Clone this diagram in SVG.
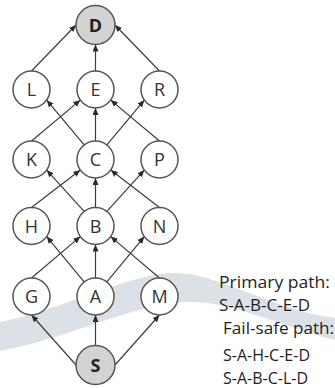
<svg xmlns="http://www.w3.org/2000/svg" width="335" height="388" viewBox="0 0 335 388">
  <style>
    .node circle { fill: #ffffff; stroke: #555555; stroke-width: 1.5; }
    .node.term circle { fill: #d3d3d3; }
    .node text { font-family: "Open Sans", "Noto Sans", sans-serif; font-size: 18px; fill: #333333; text-anchor: middle; }
    .node.term text { font-weight: bold; fill: #222222; }
    .edges line { stroke: #3c3c3c; stroke-width: 1.2; marker-end: url(#arr); }
    .legend { font-family: "Open Sans", "Noto Sans", sans-serif; font-size: 16.5px; fill: #1e1e1e; }
  </style>
  <defs>
    <marker id="arr" markerUnits="userSpaceOnUse" markerWidth="8" markerHeight="7" refX="7" refY="3" orient="auto">
      <path d="M0,0 L7,3 L0,6 Z" fill="#2a2a2a"/>
    </marker>
  </defs>
  <rect width="335" height="388" fill="#ffffff"/>
  <path id="band" d="M0,322 C60,310 120,278 168,273 C215,270 270,310 335,318 L335,340 C280,326 230,300 185,302 C130,305 70,338 0,351 Z" fill="#dbe1e7"/>

  <g id="connectors" class="edges">
    <line x1="76" y1="365" x2="31.5" y2="315"/>
    <line x1="95.5" y1="345.5" x2="95.5" y2="315"/>
    <line x1="115" y1="365" x2="159.5" y2="315"/>

    <line x1="31.5" y1="278" x2="80.3" y2="236.6"/>
    <line x1="84.1" y1="281.9" x2="46.7" y2="236.6"/>
    <line x1="95.5" y1="278" x2="95.5" y2="244.5"/>
    <line x1="106.9" y1="281.9" x2="144.3" y2="236.6"/>
    <line x1="159.5" y1="278" x2="110.7" y2="236.6"/>

    <line x1="31.5" y1="207.5" x2="80.3" y2="170.1"/>
    <line x1="84.1" y1="211.4" x2="46.7" y2="170.1"/>
    <line x1="95.5" y1="207.5" x2="95.5" y2="178"/>
    <line x1="106.9" y1="211.4" x2="144.3" y2="170.1"/>
    <line x1="159.5" y1="207.5" x2="110.7" y2="170.1"/>

    <line x1="31.5" y1="141" x2="80.3" y2="100.1"/>
    <line x1="84.1" y1="144.9" x2="46.7" y2="100.1"/>
    <line x1="95.5" y1="141" x2="95.5" y2="108"/>
    <line x1="106.9" y1="144.9" x2="144.3" y2="100.1"/>
    <line x1="159.5" y1="141" x2="110.7" y2="100.1"/>

    <line x1="31.5" y1="71" x2="76" y2="25"/>
    <line x1="95.5" y1="71" x2="95.5" y2="44.5"/>
    <line x1="159.5" y1="71" x2="115" y2="25"/>
  </g>

  <g id="node-D" class="node term"><circle cx="95.5" cy="25" r="19.5"/><text x="95.5" y="31.5">D</text></g>
  <g id="node-L" class="node"><circle cx="31.5" cy="89.5" r="18.5"/><text x="31.5" y="96">L</text></g>
  <g id="node-E" class="node"><circle cx="95.5" cy="89.5" r="18.5"/><text x="95.5" y="96">E</text></g>
  <g id="node-R" class="node"><circle cx="159.5" cy="89.5" r="18.5"/><text x="159.5" y="96">R</text></g>
  <g id="node-K" class="node"><circle cx="31.5" cy="159.5" r="18.5"/><text x="31.5" y="166">K</text></g>
  <g id="node-C" class="node"><circle cx="95.5" cy="159.5" r="18.5"/><text x="95.5" y="166">C</text></g>
  <g id="node-P" class="node"><circle cx="159.5" cy="159.5" r="18.5"/><text x="159.5" y="166">P</text></g>
  <g id="node-H" class="node"><circle cx="31.5" cy="226" r="18.5"/><text x="31.5" y="232.5">H</text></g>
  <g id="node-B" class="node"><circle cx="95.5" cy="226" r="18.5"/><text x="95.5" y="232.5">B</text></g>
  <g id="node-N" class="node"><circle cx="159.5" cy="226" r="18.5"/><text x="159.5" y="232.5">N</text></g>
  <g id="node-G" class="node"><circle cx="31.5" cy="296.5" r="18.5"/><text x="31.5" y="303">G</text></g>
  <g id="node-A" class="node"><circle cx="95.5" cy="296.5" r="18.5"/><text x="95.5" y="303">A</text></g>
  <g id="node-M" class="node"><circle cx="159.5" cy="296.5" r="18.5"/><text x="159.5" y="303">M</text></g>
  <g id="node-S" class="node term"><circle cx="95.5" cy="365" r="19.5"/><text x="95.5" y="371.5">S</text></g>

  <g id="legend">
    <text class="legend" x="219" y="288" textLength="111" lengthAdjust="spacingAndGlyphs">Primary path:</text>
    <text class="legend" x="219" y="311" textLength="91" lengthAdjust="spacingAndGlyphs">S-A-B-C-E-D</text>
    <text class="legend" x="223" y="334" textLength="111" lengthAdjust="spacingAndGlyphs">Fail-safe path:</text>
    <text class="legend" x="223" y="361" textLength="87" lengthAdjust="spacingAndGlyphs">S-A-H-C-E-D</text>
    <text class="legend" x="223" y="384" textLength="85" lengthAdjust="spacingAndGlyphs">S-A-B-C-L-D</text>
  </g>
</svg>
